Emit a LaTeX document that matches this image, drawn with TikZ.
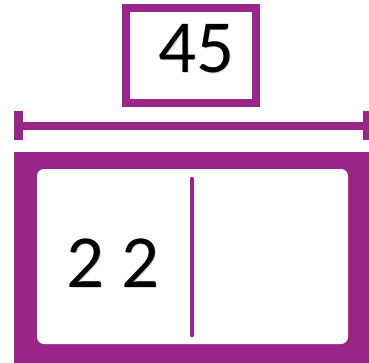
\documentclass[tikz,border=0pt]{standalone}
\usepackage{fontspec}
\newfontfamily\calib{Carlito}
\definecolor{purp}{RGB}{155,36,137}
\begin{document}
\begin{tikzpicture}[x=1pt,y=-1pt,
  num/.style={font=\calib\fontsize{75}{75}\selectfont, text=black, inner sep=0pt, anchor=base},
  numshadow/.style={font=\calib\fontsize{75}{75}\selectfont, text=black!40, opacity=0.35, inner sep=0pt, anchor=base}]
\useasboundingbox (0,0) rectangle (369,362);
\clip (0,0) rectangle (369,362);
% top box
\draw[purp, line width=8pt] (126,8) rectangle (256,103);
\node[numshadow] (s45) at (197.5,73) {45};
\node[num] (n45) at (196.5,72) {45};
% dimension line
\draw[purp, line width=7.5pt] (14,126) -- (372,126);
\draw[purp, line width=9pt] (18.5,111) -- (18.5,140);
\draw[purp, line width=8pt] (367,111) -- (367,140);
% big box
\fill[purp] (14,152) rectangle (380,372);
\fill[white, rounded corners=7pt] (37,169) rectangle (348,344);
\draw[purp, line width=4.5pt, line cap=round] (192,179) -- (192,335);
\node[numshadow] (s22) at (114,288) {2 2};
\node[num] (n22) at (113,287) {2 2};
\end{tikzpicture}
\end{document}
